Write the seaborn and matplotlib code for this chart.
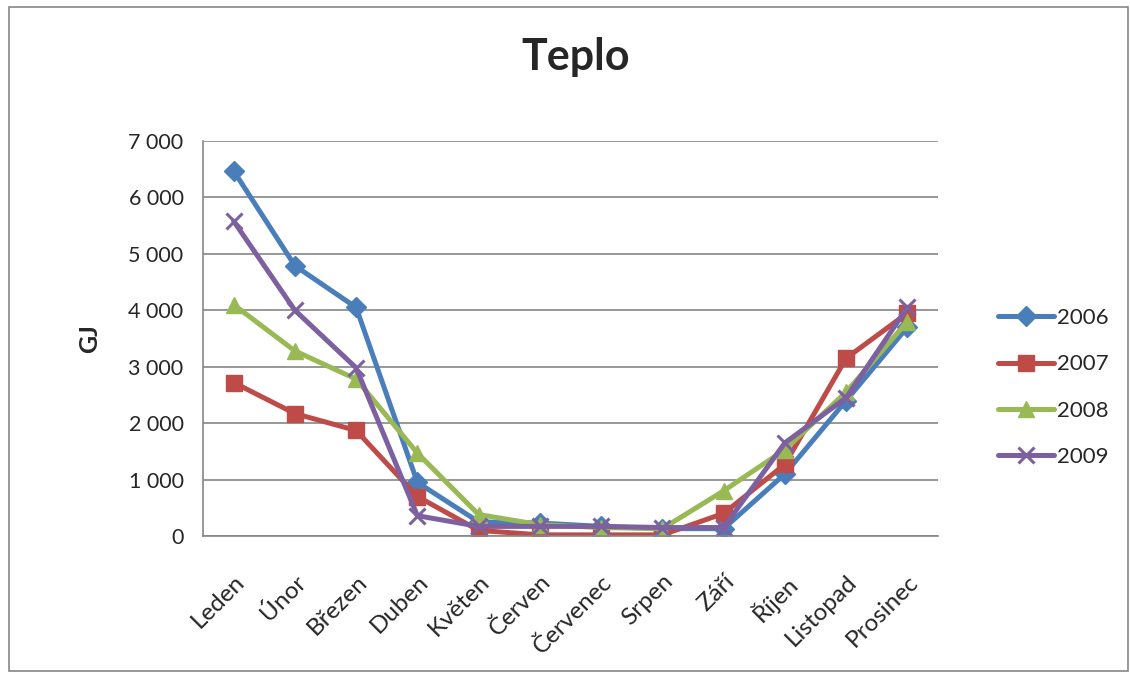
import numpy as np
import pandas as pd
import matplotlib
matplotlib.use("Agg")
import matplotlib.pyplot as plt
import matplotlib.transforms as mtransforms
import seaborn as sns
from matplotlib.ticker import FuncFormatter, MultipleLocator, FixedLocator

months = ["Leden", "Únor", "Březen", "Duben", "Květen", "Červen",
          "Červenec", "Srpen", "Září", "Říjen", "Listopad", "Prosinec"]
years = ["2006", "2007", "2008", "2009"]
teplo_2006 = [6470, 4790, 4050, 950, 250, 230, 170, 130, 130, 1100, 2400, 3700]
teplo_2007 = [2720, 2170, 1870, 700, 100, 20, 20, 20, 400, 1270, 3150, 3950]
teplo_2008 = [4100, 3280, 2780, 1470, 380, 200, 150, 130, 800, 1530, 2550, 3800]
teplo_2009 = [5580, 4000, 2980, 360, 170, 170, 170, 150, 150, 1650, 2450, 4050]

colors = ["#4A7EBB", "#BE4B48", "#98B954", "#7D60A0"]
markers = ["D", "s", "^", "x"]
msizes = [10, 11, 12, 12]

df = pd.DataFrame({
    "idx": list(range(12)) * 4,
    "GJ": teplo_2006 + teplo_2007 + teplo_2008 + teplo_2009,
    "rok": [y for y in years for _ in range(12)],
})

sns.set_style("white")
plt.rcParams["font.family"] = ["Lato", "DejaVu Sans"]

fig = plt.figure(figsize=(11.3, 6.74), dpi=100)
ax = fig.add_axes([203 / 1130, 1 - 536 / 674, 735 / 1130, 395 / 674])

for i, y in enumerate(years):
    sub = df[df["rok"] == y]
    sns.lineplot(data=sub, x="idx", y="GJ", ax=ax, color=colors[i], linewidth=3.6,
                 marker=markers[i], markersize=msizes[i], markeredgecolor=colors[i],
                 markeredgewidth=2.2 if markers[i] == "x" else 1, label=y)

ax.set_xlim(-0.5, 11.5)
ax.set_ylim(0, 7000)
ax.yaxis.set_major_locator(MultipleLocator(1000))
ax.yaxis.set_major_formatter(FuncFormatter(lambda v, p: f"{int(v):,}".replace(",", " ")))
ax.set_xticks(range(12))
ax.set_xticklabels(months, rotation=45, ha="right", va="top", rotation_mode="anchor", fontsize=17.5)
offset = mtransforms.ScaledTranslation(5 / 72, 0, fig.dpi_scale_trans)
for lab in ax.get_xticklabels():
    lab.set_transform(lab.get_transform() + offset)
ax.tick_params(axis="x", which="major", length=0, pad=25)
ax.xaxis.set_minor_locator(FixedLocator(np.arange(-0.5, 12, 1)))
ax.tick_params(axis="x", which="minor", length=6, color="#868686", width=1.2)
ax.tick_params(axis="y", length=6, color="#868686", width=1.2, labelsize=15.5, pad=8)
ax.grid(axis="y", color="#868686", linewidth=1.2)
ax.set_axisbelow(True)
for s in ["top", "right"]:
    ax.spines[s].set_visible(False)
for s in ["left", "bottom"]:
    ax.spines[s].set_color("#868686")
    ax.spines[s].set_linewidth(1.2)
ax.set_xlabel("")
ax.set_ylabel("GJ", fontsize=18, fontweight="bold", labelpad=20)

h, l = ax.get_legend_handles_labels()
ax.legend_.remove()
fig.legend(h, l, loc="center left", bbox_to_anchor=(998 / 1130, 0.425), frameon=False,
           fontsize=16, handlelength=2.5, labelspacing=1.18, handletextpad=0.15,
           borderpad=0, borderaxespad=0)

fig.suptitle("Teplo", fontsize=31, fontweight="bold", x=0.509, y=0.945)

border = plt.Rectangle((0.008, 0.005), 0.99, 0.985, transform=fig.transFigure,
                       fill=False, edgecolor="#868686", linewidth=1.2)
fig.patches.append(border)

fig.savefig("out.png", dpi=100, facecolor="white")
